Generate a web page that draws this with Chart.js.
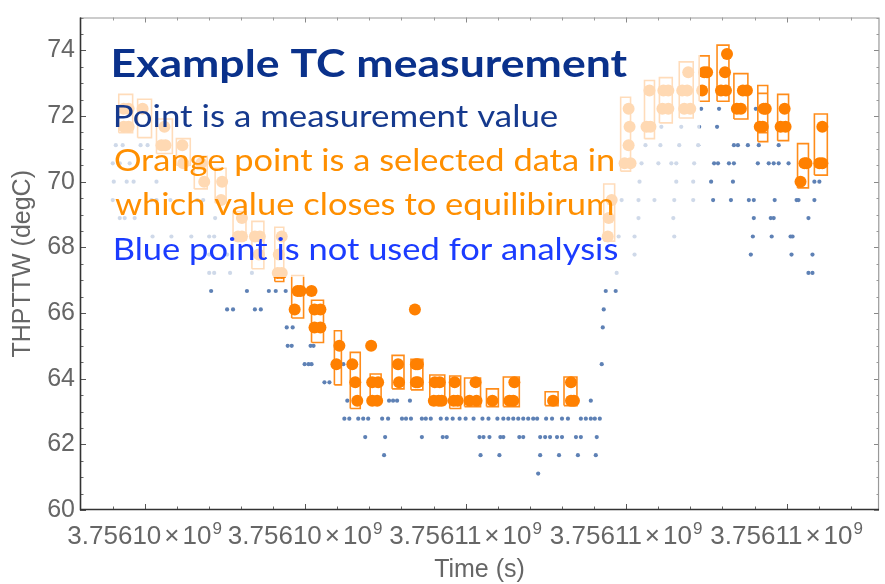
<!DOCTYPE html>
<html><head><meta charset="utf-8">
<script src="https://cdn.jsdelivr.net/npm/chart.js@4.4.1/dist/chart.umd.min.js"></script>
<style>html,body{margin:0;padding:0;background:#fff;}#wrap{width:885px;height:584px;}</style>
</head><body><div id="wrap"><canvas id="c" width="885" height="584"></canvas></div>
<script>
// ---- data (time in seconds since timeBase, temperature in degC) ----
const timeBase = 3756100000;
const xTickTimes = [2000, 4000, 6000, 8000, 10000];
const xTickLabels = ['3.75610', '3.75610', '3.75611', '3.75611', '3.75611'];
const xTickExponent = '9';
const yTickValues = [60, 62, 64, 66, 68, 70, 72, 74];

const blueLevels = [72.22, 71.67, 71.11, 70.56, 70.00, 69.44, 68.89, 68.33, 67.78, 67.22, 66.67, 66.11, 65.56, 65.00, 64.44, 63.89, 63.33, 62.78, 62.22, 61.67, 61.11];
const blueTimes = [
  [8935, 9158, 9616],
  [8439, 8687, 8910, 9133],
  [1641, 1727, 1950, 2037, 8241, 8427, 8662, 8898, 9343, 9393, 9517, 9653, 9901],
  [1603, 1690, 1814, 8192, 8402, 8563, 8625, 8848, 9096, 9145, 9281, 9343, 9641, 9777, 9839, 9901, 10024],
  [1616, 1777, 1863, 2148, 8167, 8625, 8836, 9059, 9331, 10346, 10408],
  [1603, 2086, 2148, 2321, 2656, 2730, 7944, 8154, 8353, 8600, 8836, 9084, 9306, 9529, 9591, 9851, 10124, 10148, 10346],
  [1690, 1752, 1876, 2879, 8154, 8588, 9591, 9802, 9839, 10272],
  [2099, 2334, 2582, 2805, 2867, 7907, 8105, 8600, 9579, 9814, 10049, 10074],
  [2805, 3028, 8105, 9554, 10061, 10322],
  [2805, 2867, 3065, 3337, 7882, 10272, 10322],
  [2829, 3275, 3548, 3634, 3758, 7746, 7870],
  [3028, 3102, 3374, 3448, 7721],
  [3771, 3845, 7709],
  [3783, 3833, 4068, 4105],
  [3994, 4043, 4080, 4477, 7696],
  [4241, 4303],
  [4526, 5046, 5096, 5146, 5306, 7560],
  [4489, 4551, 4662, 4724, 4786, 4960, 5034, 5207, 5257, 5319, 5455, 5504, 5566, 5690, 5765, 5839, 5925, 6000, 6099, 6210, 6285, 6396, 6470, 6532, 6594, 6656, 6718, 6780, 6842, 6891, 7003, 7077, 7201, 7275, 7436, 7498, 7560, 7610, 7672],
  [4749, 4997, 5455, 5715, 5765, 6173, 6223, 6297, 6433, 6470, 6669, 6718, 6929, 6991, 7052, 7139, 7201, 7375, 7436, 7634],
  [4984, 6186, 6421, 6929, 7164, 7399, 7622],
  [6904]
];

const orangeLevels = [73.89, 73.33, 72.78, 72.22, 71.67, 71.11, 70.56, 70.00, 69.44, 68.89, 68.33, 67.78, 67.22, 66.67, 66.11, 65.56, 65.00, 64.44, 63.89, 63.33];
const orangeTimes = [
  [9257],
  [8774, 8972, 9009, 9232],
  [8291, 8464, 8526, 8699, 8761, 8947, 9182, 9244, 9455, 9505],
  [1740, 1801, 1975, 8031, 8452, 8526, 8724, 8799, 9380, 9430, 9715, 9740, 9975],
  [1740, 1801, 2247, 8043, 8254, 8303, 9665, 9703, 9925, 9987, 10445],
  [2210, 2260, 2470, 8031],
  [2483, 2706, 7981, 8055, 10222, 10247, 10408, 10445],
  [2743, 2966, 10173],
  [2953, 7820],
  [3213, 7783],
  [3164, 3213, 3374, 3436, 3709, 7771],
  [3424, 3672],
  [3659, 3709],
  [3907, 3944, 4080],
  [3870, 4117, 4191, 5368],
  [4117, 4191],
  [4427, 4823],
  [4390, 4588, 5158, 5381, 5405],
  [4625, 4836, 4910, 5170, 5381, 5405, 5616, 5678, 5864, 6124, 6607, 7313],
  [4650, 4836, 4898, 5604, 5665, 5703, 5851, 5901, 6049, 6136, 6334, 6545, 6594, 7090, 7313, 7350]
];

const boxStart = [1678, 1913, 2148, 2396, 2619, 2879, 3102, 3337, 3622, 3833, 4080, 4365, 4563, 4811, 5084, 5319, 5554, 5802, 5987, 6260, 6470, 6991, 7226, 7721, 7932, 8229, 8415, 8662, 8910, 9133, 9343, 9641, 9641, 9888, 10136, 10346];
const boxEnd   = [1851, 2086, 2346, 2569, 2780, 3015, 3263, 3486, 3734, 3981, 4229, 4452, 4687, 4947, 5232, 5467, 5740, 5938, 6186, 6408, 6669, 7152, 7387, 7857, 8055, 8353, 8575, 8836, 9034, 9281, 9517, 9764, 9764, 10024, 10272, 10507];
const boxLow   = [71.49, 71.34, 70.86, 70.50, 69.78, 69.36, 68.22, 67.35, 66.96, 65.85, 65.10, 63.81, 63.09, 63.30, 63.69, 63.66, 63.21, 63.09, 63.15, 63.15, 63.15, 63.18, 63.18, 68.19, 70.32, 71.31, 71.79, 71.94, 72.45, 72.45, 71.91, 71.22, 71.49, 71.25, 69.81, 70.20];
const boxHigh  = [72.66, 72.51, 71.91, 71.31, 70.77, 70.41, 69.09, 68.79, 68.61, 67.14, 66.39, 65.46, 64.80, 64.14, 64.71, 64.59, 64.11, 64.08, 64.02, 63.69, 64.05, 63.60, 64.05, 69.93, 72.57, 73.08, 73.17, 73.65, 73.83, 74.16, 73.29, 72.93, 72.69, 72.66, 71.16, 72.06];

const xMin = timeBase + 1195, xMax = timeBase + 11151;
const yMin = 60, yMax = 75;

// ---- build library tables ----
const blueData = [];
blueLevels.forEach((v, i) => blueTimes[i].forEach(t => blueData.push({x: timeBase + t, y: v})));
const orangeData = [];
orangeLevels.forEach((v, i) => orangeTimes[i].forEach(t => orangeData.push({x: timeBase + t, y: v})));
const boxData = [];
boxStart.forEach((s, i) => {
  const a = timeBase + s, b = timeBase + boxEnd[i];
  boxData.push({x: a, y: boxLow[i]}, {x: b, y: boxLow[i]}, {x: b, y: boxHigh[i]}, {x: a, y: boxHigh[i]}, {x: a, y: boxLow[i]}, {x: a, y: null});
});

const labelFamily = '"Liberation Sans", Arial, sans-serif';

// ---- decorations ----
const framePlugin = {
  id: 'frame',
  afterDraw(chart) {
    const ctx = chart.ctx, ca = chart.chartArea, xs = chart.scales.x, ys = chart.scales.y;
    // translucent text box
    ctx.save();
    ctx.fillStyle = 'rgba(255,255,255,0.70)';
    ctx.fillRect(100, 28, 600, 249);
    ctx.restore();
    // text lines
    const lines = [
      {text: 'Example TC measurement', bold: true, color: '#0a318b', x: 114, base: 77, cap: 27.5, right: 628},
      {text: 'Point is a measurement value', color: '#15398d', x: 115, base: 127, cap: 22, right: 558},
      {text: 'Orange point is a selected data in', color: '#ff8f00', x: 115, base: 171, cap: 22, right: 614},
      {text: 'which value closes to equilibirum', color: '#ff8f00', x: 115, base: 215, cap: 22, right: 613},
      {text: 'Blue point is not used for analysis', color: '#1b3cff', x: 115, base: 260, cap: 22, right: 618}
    ];
    lines.forEach(L => {
      const size = L.cap / 0.7165;
      ctx.save();
      ctx.font = (L.bold ? 'bold ' : '') + size.toFixed(2) + 'px Lato, "Open Sans", sans-serif';
      ctx.textBaseline = 'alphabetic';
      ctx.textAlign = 'left';
      const m = ctx.measureText(L.text);
      const ink = m.actualBoundingBoxLeft + m.actualBoundingBoxRight;
      const sx = (L.right - L.x) / ink;
      ctx.translate(L.x, L.base);
      ctx.scale(sx, 1);
      ctx.fillStyle = L.color;
      ctx.fillText(L.text, m.actualBoundingBoxLeft, 0);
      ctx.restore();
    });
    // x tick labels with superscript exponent
    ctx.save();
    ctx.fillStyle = '#666';
    ctx.textBaseline = 'alphabetic';
    ctx.textAlign = 'left';
    xTickTimes.forEach((t, i) => {
      const px = xs.getPixelForValue(timeBase + t);
      ctx.font = '26px ' + labelFamily;
      const wm = ctx.measureText(xTickLabels[i]).width;
      const wx = ctx.measureText('\u00d7').width;
      const wt = ctx.measureText('10').width;
      ctx.font = '17px ' + labelFamily;
      const we = ctx.measureText(xTickExponent).width;
      const gap = 3;
      const total = wm + gap + wx + gap + wt + 1 + we;
      let x = px - total / 2;
      const base = 544;
      ctx.font = '26px ' + labelFamily;
      ctx.fillText(xTickLabels[i], x, base); x += wm + gap;
      ctx.fillText('\u00d7', x, base); x += wx + gap;
      ctx.fillText('10', x, base); x += wt + 1;
      ctx.font = '17px ' + labelFamily;
      ctx.fillText(xTickExponent, x, base - 10);
    });
    ctx.restore();
    // ticks
    ctx.save();
    const xMaj = xTickTimes.map(t => timeBase + t);
    const xMinor = [];
    for (let t = xMaj[0] - 2000; t <= xMax; t += 400) if (t >= xMin && !xMaj.includes(t)) xMinor.push(t);
    const yMinor = [];
    for (let v = yMin; v <= yMax; v += 0.5) if (!yTickValues.includes(v)) yMinor.push(v);
    function vt(x, y0, y1, c) { ctx.strokeStyle = c; ctx.beginPath(); ctx.moveTo(x, y0); ctx.lineTo(x, y1); ctx.stroke(); }
    function ht(y, x0, x1, c) { ctx.strokeStyle = c; ctx.beginPath(); ctx.moveTo(x0, y); ctx.lineTo(x1, y); ctx.stroke(); }
    ctx.lineWidth = 1;
    xMaj.forEach(v => { const p = Math.round(xs.getPixelForValue(v)) + 0.5; vt(p, ca.bottom, ca.bottom - 6, '#555'); vt(p, ca.top, ca.top + 5, '#888'); });
    xMinor.forEach(v => { const p = Math.round(xs.getPixelForValue(v)) + 0.5; vt(p, ca.bottom, ca.bottom - 3.5, '#666'); vt(p, ca.top, ca.top + 3, '#999'); });
    yTickValues.forEach(v => { const p = Math.round(ys.getPixelForValue(v)) + 0.5; ht(p, ca.left, ca.left + 6, '#555'); ht(p, ca.right, ca.right - 5, '#888'); });
    yMinor.forEach(v => { const p = Math.round(ys.getPixelForValue(v)) + 0.5; ht(p, ca.left, ca.left + 3.5, '#666'); ht(p, ca.right, ca.right - 2.5, '#999'); });
    // frame
    ctx.lineWidth = 1.2;
    ctx.strokeStyle = '#999';
    ctx.beginPath(); ctx.moveTo(ca.left, ca.top + 0.5); ctx.lineTo(ca.right, ca.top + 0.5); ctx.lineTo(ca.right - 0.5, ca.bottom); ctx.stroke();
    ctx.lineWidth = 1.6;
    ctx.strokeStyle = '#333';
    ctx.beginPath(); ctx.moveTo(ca.left + 0.5, ca.top); ctx.lineTo(ca.left + 0.5, ca.bottom - 0.5); ctx.lineTo(ca.right, ca.bottom - 0.5); ctx.stroke();
    ctx.restore();
  }
};

const axisFont = {family: labelFamily, size: 25, lineHeight: 1};

new Chart(document.getElementById('c'), {
  type: 'scatter',
  data: {
    datasets: [
      {label: 'selected', data: orangeData, backgroundColor: '#ff8000', borderWidth: 0, pointRadius: 6, pointHoverRadius: 6},
      {label: 'range', data: boxData, showLine: true, spanGaps: false, borderColor: 'rgba(255,128,0,0.9)', borderWidth: 1.6, pointRadius: 0, pointHoverRadius: 0, tension: 0, fill: false},
      {label: 'measured', data: blueData, backgroundColor: '#5e81b5', borderWidth: 0, pointRadius: 2.1, pointHoverRadius: 2.1}
    ]
  },
  options: {
    responsive: false,
    animation: false,
    events: [],
    layout: {padding: {top: 11, right: 1, left: 0, bottom: 0}},
    plugins: {legend: {display: false}, tooltip: {enabled: false}},
    scales: {
      x: {
        type: 'linear', min: xMin, max: xMax,
        afterBuildTicks: s => { s.ticks = xTickTimes.map(t => ({value: timeBase + t})); },
        afterFit: s => { s.height = 74; },
        grid: {display: false, drawTicks: false},
        border: {display: false},
        ticks: {display: false},
        title: {display: true, text: 'Time (s)', color: '#666', font: axisFont, padding: {top: 0, bottom: 1}}
      },
      y: {
        type: 'linear', min: yMin, max: yMax,
        afterBuildTicks: s => { s.ticks = yTickValues.map(v => ({value: v})); },
        afterFit: s => { s.width = 80; },
        grid: {display: false, drawTicks: false},
        border: {display: false},
        ticks: {padding: 5, color: '#666', font: axisFont, callback: v => String(v)},
        title: {display: true, text: 'THPTTW (degC)', color: '#666', font: axisFont, padding: {top: 11, bottom: 0}}
      }
    }
  },
  plugins: [framePlugin]
});
</script>
</body></html>
